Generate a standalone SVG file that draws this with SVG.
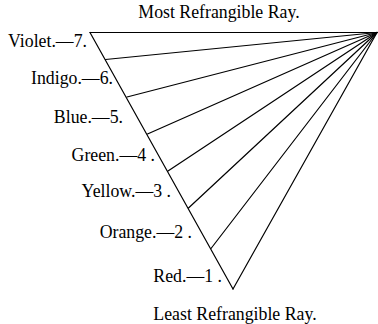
<svg xmlns="http://www.w3.org/2000/svg" width="378" height="324" viewBox="0 0 378 324">
<style>
text{font-family:"Liberation Serif","Times New Roman",serif;font-size:17.8px;fill:#000}
.l{text-anchor:end}
.c{text-anchor:middle}
line{stroke:#000;stroke-width:1.2;stroke-linecap:round}
</style>
<rect width="378" height="324" fill="#fff"/>
<g id="connectors">
<line x1="90" y1="32.5" x2="377" y2="32.5"/>
<line x1="90" y1="32.5" x2="233" y2="289"/>
<line x1="105.5" y1="59.5" x2="377" y2="32.5"/>
<line x1="127" y1="97" x2="377" y2="32.5"/>
<line x1="147.5" y1="134" x2="377" y2="32.5"/>
<line x1="168" y1="171" x2="377" y2="32.5"/>
<line x1="188.5" y1="208" x2="377" y2="32.5"/>
<line x1="211" y1="248.5" x2="377" y2="32.5"/>
<line x1="233" y1="289" x2="377" y2="32.5"/>
</g>
<g id="title-top"><text class="c" x="219" y="18">Most Refrangible Ray.</text></g>
<g id="violet"><text class="l" x="87" y="47">Violet.—7.</text></g>
<g id="indigo"><text class="l" x="113" y="84">Indigo.—6.</text></g>
<g id="blue"><text class="l" x="123" y="123">Blue.—5.</text></g>
<g id="green"><text class="l" x="155" y="161">Green.—4 .</text></g>
<g id="yellow"><text class="l" x="171" y="197">Yellow.—3 .</text></g>
<g id="orange"><text class="l" x="192" y="238">Orange.—2 .</text></g>
<g id="red"><text class="l" x="222" y="282">Red.—1 .</text></g>
<g id="title-bottom"><text class="c" x="235" y="320">Least Refrangible Ray.</text></g>
</svg>
